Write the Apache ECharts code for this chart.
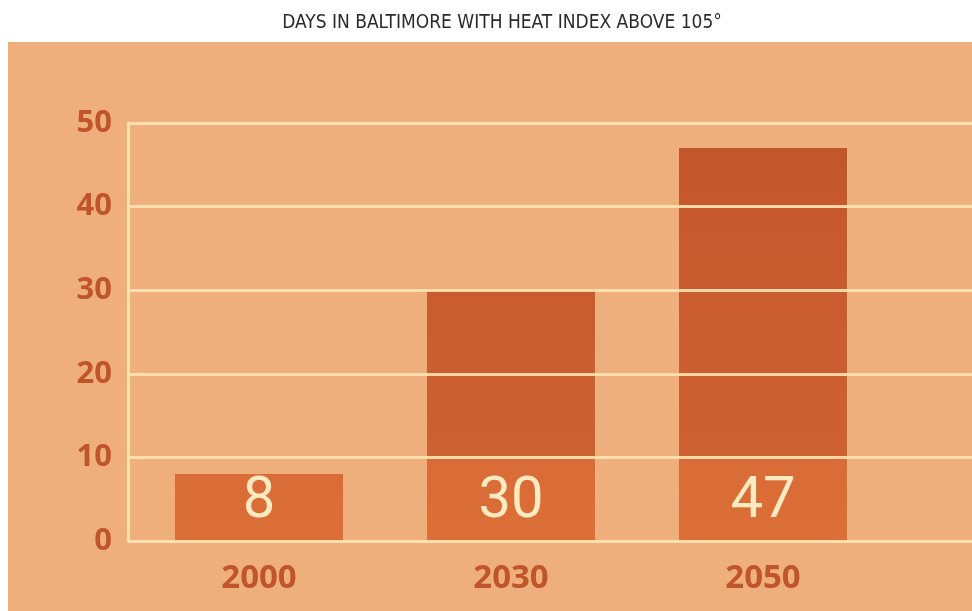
<!DOCTYPE html>
<html>
<head>
<meta charset="utf-8">
<script src="https://cdn.jsdelivr.net/npm/echarts@6/dist/echarts.min.js"></script>
<style>
  html, body { margin: 0; padding: 0; background: #ffffff; }
  #chart { width: 972px; height: 611px; }
</style>
</head>
<body>
<div id="chart"></div>
<script>
// Days per year with a heat index above 105 degrees
const years = ['2000', '2030', '2050'];
const days = [8, 30, 47];
const yTicks = [0, 10, 20, 30, 40, 50];

const chart = echarts.init(document.getElementById('chart'));

const gridTop = 123, gridBottom = 70;
const H = 611;

// bars darken as they rise through the value bands
const barFill = new echarts.graphic.LinearGradient(0, H - gridBottom, 0, gridTop, [
  { offset: 0, color: '#dc6f38' },
  { offset: 0.2, color: '#d96b36' },
  { offset: 0.205, color: '#cd6131' },
  { offset: 0.6, color: '#c95c2f' },
  { offset: 1, color: '#c1552b' }
], true);

chart.setOption({
  backgroundColor: '#ffffff',
  animation: false,
  title: {
    text: 'DAYS IN BALTIMORE WITH HEAT INDEX ABOVE 105°',
    left: 497,
    textAlign: 'center',
    top: 9,
    textStyle: {
      fontFamily: '"Liberation Sans Narrow", "DejaVu Sans Condensed", sans-serif',
      fontWeight: 'normal',
      fontSize: 19,
      color: '#2b2b2b'
    }
  },
  graphic: [{
    type: 'rect',
    z: -10,
    shape: { x: 8, y: 42, width: 964, height: 569 },
    style: { fill: '#eeaf7c' }
  }],
  grid: [
    { left: 128, right: 0, top: gridTop, bottom: gridBottom },
    { left: 133, right: 83, top: gridTop, bottom: gridBottom }
  ],
  xAxis: [
    {
      gridIndex: 0, type: 'value', min: 0, max: 1,
      axisLine: { show: false }, axisTick: { show: false },
      axisLabel: { show: false }, splitLine: { show: false }
    },
    {
      gridIndex: 1, type: 'category', data: years,
      axisLine: { show: false }, axisTick: { show: false },
      axisLabel: {
        margin: 21,
        fontFamily: '"Open Sans", sans-serif',
        fontWeight: 'bold',
        fontSize: 33,
        color: '#c0552b'
      }
    }
  ],
  yAxis: [
    {
      gridIndex: 0, type: 'value', min: 0, max: 50, interval: 10, z: 5,
      axisLine: { show: true, lineStyle: { color: '#fbe2ad', width: 3 } },
      axisTick: { show: false },
      axisLabel: {
        margin: 16,
        fontFamily: '"Open Sans", sans-serif',
        fontWeight: 'bold',
        fontSize: 31,
        color: '#c0552b',
        formatter: v => yTicks.includes(v) ? String(v) : ''
      },
      splitLine: { show: true, lineStyle: { color: 'rgba(252,228,178,0.9)', width: 3 } }
    },
    {
      gridIndex: 1, type: 'value', min: 0, max: 50, interval: 10, show: false
    }
  ],
  series: [{
    type: 'bar',
    xAxisIndex: 1,
    yAxisIndex: 1,
    data: days,
    barWidth: 168,
    itemStyle: { color: barFill },
    label: {
      show: true,
      position: 'insideBottom',
      distance: 10,
      fontFamily: 'Roboto, sans-serif',
      fontSize: 58,
      color: '#fdeac0'
    }
  }]
});
</script>
</body>
</html>
